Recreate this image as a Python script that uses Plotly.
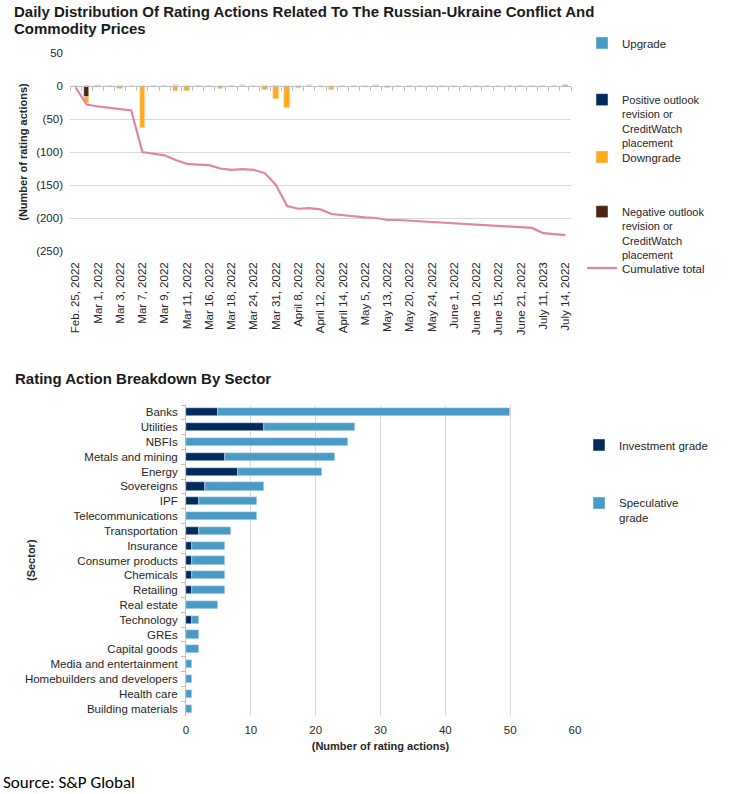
import plotly.graph_objects as go

# ---------------- data: top chart ----------------
date_labels = ["Feb. 25, 2022", "Mar 1, 2022", "Mar 3, 2022", "Mar 7, 2022", "Mar 9, 2022",
               "Mar 11, 2022", "Mar 16, 2022", "Mar 18, 2022", "Mar 24, 2022", "Mar 31, 2022",
               "April 8, 2022", "April 12, 2022", "April 14, 2022", "May 5, 2022", "May 13, 2022",
               "May 20, 2022", "May 24, 2022", "June 1, 2022", "June 10, 2022", "June 15, 2022",
               "June 21, 2022", "July 11, 2023", "July 14, 2022"]

upgrade = [0, 0, 0, 0, 0, 0, 0, 0, 0, 1, 0, 0, 0, 0, 0, 1, 0, 0, 0, 0, 0, 1, 0,
           0, 0, 0, 0, 1, 0, 0, 0, 0, 0, 0, 0, 0, 0, 0, 0, 0, 0, 0, 0, 0, 0]
positive = [0, 0, 0, 0, 0, 0, 0, 0, 0, 0, 0, 0, 0, 0, 0, 0, 0, 0, 0, 0, 0, 0, 0,
            0, 0, 0, 0, 0, 0, 0, 0, 0, 0, 0, 0, 0, 0, 0, 0, 0, 0, 0, 0, 0, 1]
downgrade = [-2, -9, -1, 0, -5, -1, -63, -1, -2, -8, -7, 0, -1, -4, -1, 0, -1, -6, -20, -33, -3, 0, -1,
             -6, -1, -1, -1, -1, -3, -1, 0, -1, 0, -1, -1, 0, 0, -1, -1, 0, 0, 0, -1, 0, 0]
negative = [0, -17, -1, -1, 0, 0, 0, 0, 0, 0, 0, -1, 0, 0, 0, 0, 0, 0, 0, 0, 0, 0, 0,
            0, 0, 0, 0, 0, 0, 0, -1, 0, -1, 0, 0, -1, -1, 0, 0, -1, -1, -1, 0, -1, 0]
cumulative = [-2, -28, -31, -33, -36, -37, -100, -103, -105, -112, -118, -119, -120, -125, -127, -126,
              -127, -132, -150, -182, -186, -185, -187, -194, -196, -197, -199, -200, -203, -203,
              -204, -205, -206, -207, -208, -209, -210, -211, -212, -213, -214, -215, -223, -225, -226]
y_ticks = [50, 0, -50, -100, -150, -200, -250]

# ---------------- data: bottom chart ----------------
sectors = ["Banks", "Utilities", "NBFIs", "Metals and mining", "Energy", "Sovereigns", "IPF",
           "Telecommunications", "Transportation", "Insurance", "Consumer products", "Chemicals",
           "Retailing", "Real estate", "Technology", "GREs", "Capital goods",
           "Media and entertainment", "Homebuilders and developers", "Health care", "Building materials"]
investment = [5, 12, 0, 6, 8, 3, 2, 0, 2, 1, 1, 1, 1, 0, 1, 0, 0, 0, 0, 0, 0]
speculative = [45, 14, 25, 17, 13, 9, 9, 11, 5, 5, 5, 5, 5, 5, 1, 2, 2, 1, 1, 1, 1]

# ---------------- styling ----------------
W, H = 733, 794
FONT = "Liberation Sans, Arial, sans-serif"
C_UP = "#4A9AC6"
C_POS = "#002B5C"
C_DOWN = "#FFAB1C"
C_NEG = "#4A2614"
C_CUM = "#E085A5"
GRID = "#D9D9D9"
AXIS = "#BFBFBF"
TXT = "#262626"


def fx(px):
    return px / W


def fy(py):
    return 1 - py / H


n = len(cumulative)
xs = list(range(n))

fig = go.Figure()

# stacking order: negative outlook closest to zero, then downgrade
fig.add_trace(go.Bar(x=xs, y=upgrade, name="Upgrade", marker_color=C_UP,
                     width=0.48, legend="legend"))
fig.add_trace(go.Bar(x=xs, y=positive, name="Positive outlook<br>revision or<br>CreditWatch<br>placement",
                     marker_color=C_POS, width=0.48, legend="legend3"))
fig.add_trace(go.Bar(x=xs, y=negative, name="Negative outlook<br>revision or<br>CreditWatch<br>placement",
                     marker_color=C_NEG, width=0.48, legend="legend5"))
fig.add_trace(go.Bar(x=xs, y=downgrade, name="Downgrade", marker_color=C_DOWN,
                     width=0.48, legend="legend4"))
fig.add_trace(go.Scatter(x=xs, y=cumulative, name="Cumulative total", mode="lines",
                         line=dict(color=C_CUM, width=2.2), xaxis="x3", yaxis="y",
                         legend="legend6"))

fig.add_trace(go.Bar(y=sectors, x=investment, orientation="h", name="Investment grade",
                     marker_color=C_POS, width=0.55, xaxis="x2", yaxis="y2", legend="legend2"))
fig.add_trace(go.Bar(y=sectors, x=speculative, orientation="h", name="Speculative<br>grade",
                     marker_color=C_UP, width=0.55, xaxis="x2", yaxis="y2", legend="legend7"))

# top axes
y_lo, y_hi = min(y_ticks), max(y_ticks)
ydom = [fy(251), fy(53)]
zero_pos = ydom[0] + (0 - y_lo) / (y_hi - y_lo) * (ydom[1] - ydom[0])
xdom = [fx(70), fx(571)]


def paren(v):
    return f"({abs(v)})" if v < 0 else str(v)


def leg(xpx, center_py, size=11.5):
    return dict(x=fx(xpx), y=fy(center_py - 14), xanchor="left", yanchor="top", valign="top",
                font=dict(size=size, color=TXT), bgcolor="rgba(0,0,0,0)")


fig.update_layout(
    width=W, height=H,
    margin=dict(l=0, r=0, t=0, b=0, autoexpand=False),
    paper_bgcolor="white", plot_bgcolor="rgba(0,0,0,0)",
    font=dict(family=FONT, size=11, color=TXT),
    barmode="relative",
    bargap=0,
    showlegend=True,
    xaxis=dict(domain=xdom, range=[-0.5, n - 0.5], anchor="y", side="bottom",
               tickvals=xs[::2], ticktext=date_labels, tickangle=-90, ticks="",
               ticklabelstandoff=8, showline=False, showgrid=False, zeroline=False,
               tickfont=dict(size=11.5, color=TXT)),
    xaxis3=dict(overlaying="x", anchor="free", position=zero_pos, range=[-0.5, n - 0.5],
                showline=True, linecolor=AXIS, linewidth=1, ticks="outside",
                tickvals=[i - 0.5 for i in range(n + 1)], ticklen=4, tickcolor=AXIS,
                showticklabels=False, showgrid=False, zeroline=False),
    yaxis=dict(domain=ydom, range=[y_lo, y_hi], tickvals=y_ticks,
               ticktext=[paren(v) for v in y_ticks], gridcolor=GRID, gridwidth=1, showgrid=True,
               showline=False, zeroline=False, ticks="", ticklabelstandoff=6,
               tickfont=dict(size=11.5, color=TXT),
               title=dict(text="<b>(Number of rating actions)</b>", font=dict(size=11), standoff=6)),
    xaxis2=dict(domain=[fx(186), fx(575)], anchor="y2", range=[0, 60], dtick=10,
                gridcolor=GRID, showline=False, zeroline=False, ticks="", ticklabelstandoff=5,
                tickfont=dict(size=11.5, color=TXT),
                title=dict(text="<b>(Number of rating actions)</b>", font=dict(size=11), standoff=7)),
    yaxis2=dict(domain=[fy(716), fy(405)], anchor="x2", categoryorder="array",
                categoryarray=sectors, autorange="reversed", showline=True, linecolor=AXIS,
                ticks="outside", tickson="boundaries", ticklen=4, tickcolor=AXIS,
                ticklabelstandoff=5, showgrid=False, zeroline=False,
                tickfont=dict(size=11.5, color=TXT)),
    legend=leg(582, 43),
    legend3=leg(582, 100, 11),
    legend4=leg(582, 157),
    legend5=leg(582, 212, 11),
    legend6=leg(582, 268),
    legend2=leg(579, 445),
    legend7=leg(579, 503),
)

TITLE_FONT = dict(size=15, color="#1a1a1a")
fig.add_annotation(text="<b>Daily Distribution Of Rating Actions Related To The Russian-Ukraine Conflict And</b>",
                   x=fx(13), y=fy(11.5), xref="paper", yref="paper", xanchor="left", yanchor="middle",
                   showarrow=False, font=TITLE_FONT, borderpad=0)
fig.add_annotation(text="<b>Commodity Prices</b>",
                   x=fx(13), y=fy(28.5), xref="paper", yref="paper", xanchor="left", yanchor="middle",
                   showarrow=False, font=TITLE_FONT, borderpad=0)
fig.add_annotation(text="<b>Rating Action Breakdown By Sector</b>",
                   x=fx(13), y=fy(378), xref="paper", yref="paper", xanchor="left", yanchor="middle",
                   showarrow=False, font=TITLE_FONT)
fig.add_annotation(text="<b>(Sector)</b>", x=fx(31), y=fy(560), xref="paper", yref="paper",
                   xanchor="center", yanchor="middle",
                   textangle=-90, showarrow=False, font=dict(size=11, color=TXT))
fig.add_annotation(text="Source: S&P Global", x=fx(1), y=fy(782), xref="paper", yref="paper",
                   xanchor="left", yanchor="middle", showarrow=False,
                   font=dict(family="Carlito, Liberation Sans, sans-serif", size=17, color="#000"))

fig.write_html("out.html", config={"displayModeBar": False},
               post_script="document.body.style.margin='0px';")
